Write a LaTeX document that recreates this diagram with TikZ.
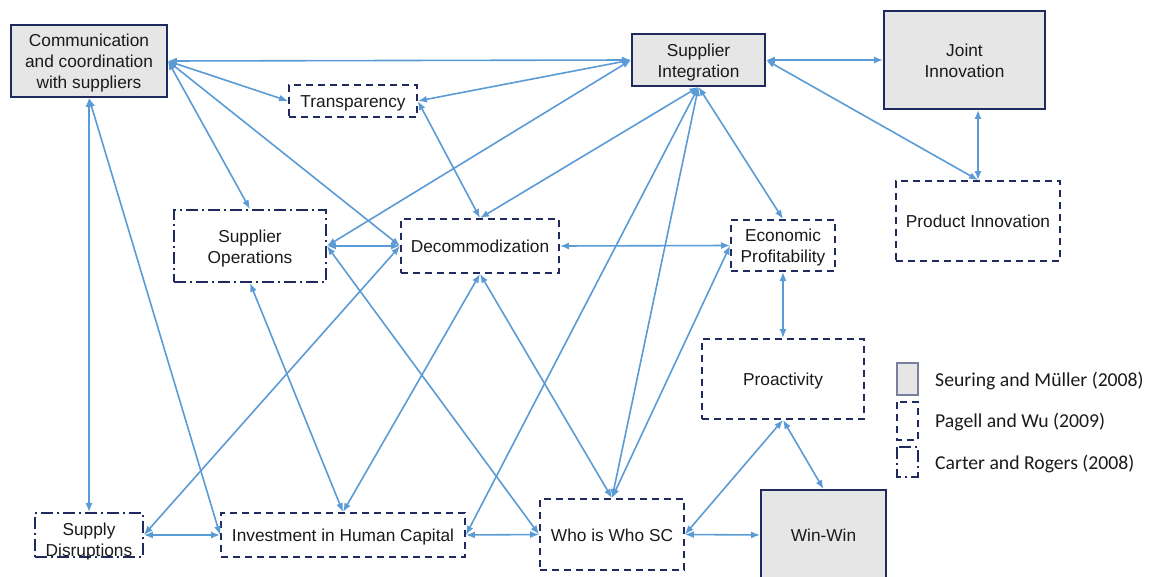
\documentclass[tikz,border=0pt]{standalone}
\usepackage{fontspec}
\setmainfont{Liberation Sans}
\newfontfamily\legendfont{Carlito}
\usetikzlibrary{arrows.meta}

\definecolor{navy}{HTML}{1F2B5E}
\definecolor{boxfill}{HTML}{E6E6E6}
\definecolor{link}{HTML}{5B9BD5}
\definecolor{ink}{HTML}{1A1A1A}

\tikzset{
  box/.style={draw=navy, line width=1.8pt, inner sep=0pt, align=center,
    text=ink, text height=13.5pt, text depth=0pt,
    font=\fontsize{17.3}{21}\selectfont},
  twolines/.style={text height=34.5pt},
  threelines/.style={text height=55.5pt},
  solidbox/.style={box, fill=boxfill},
  dashbox/.style={box, dash pattern=on 7pt off 5pt},
  dotbox/.style={box, dash pattern=on 12pt off 4pt on 2pt off 4pt},
  link/.style={draw=link, line width=1.6pt,
    {Latex[length=9pt,width=7pt]}-{Latex[length=9pt,width=7pt]}},
  legendtext/.style={anchor=west, inner sep=0pt, text=ink,
    font=\legendfont\fontsize{19.7}{23}\selectfont}
}

\begin{document}
\begin{tikzpicture}[x=1pt, y=-1pt]
\useasboundingbox (0,0) rectangle (1150,577);

% concepts
\node[solidbox, threelines, minimum width=156pt, minimum height=72pt] (comm) at (89,61)
  {Communication\\and coordination\\with suppliers};
\node[solidbox, twolines, minimum width=133pt, minimum height=52pt] (si) at (698.5,60)
  {Supplier\\Integration};
\node[solidbox, twolines, minimum width=161pt, minimum height=98pt] (ji) at (964.5,60)
  {Joint\\Innovation};
\node[dashbox, minimum width=128pt, minimum height=32pt] (tr) at (353,101)
  {Transparency};
\node[dashbox, minimum width=164pt, minimum height=80pt] (pi) at (978,221)
  {Product Innovation};
\node[dotbox, twolines, minimum width=152pt, minimum height=72pt] (so) at (250,246)
  {Supplier\\Operations};
\node[dashbox, minimum width=158pt, minimum height=54pt] (de) at (480,246)
  {Decommodization};
\node[dashbox, twolines, minimum width=104pt, minimum height=51pt] (ep) at (783,245.5)
  {Economic\\Profitability};
\node[dashbox, minimum width=162pt, minimum height=80pt] (pr) at (783,379)
  {Proactivity};
\node[dotbox, text height=42pt, minimum width=108pt, minimum height=44pt] (sd) at (89,535)
  {Supply\\Disruptions};
\node[dashbox, minimum width=244pt, minimum height=44pt] (ih) at (343,535)
  {Investment in Human Capital};
\node[dashbox, minimum width=144pt, minimum height=71pt] (ww) at (612,534.5)
  {Who is Who SC};
\node[solidbox, minimum width=125pt, minimum height=90pt] (win) at (823.5,535)
  {Win-Win};

% links between concepts
\draw[link] (comm.east) -- (si.west);
\draw[link] (comm.east) -- (tr.west);
\draw[link] (comm.east) -- (so.north);
\draw[link] (comm.east) -- (de.west);
\draw[link] (comm.south) -- (sd.north);
\draw[link] (comm.south) -- (ih.west);
\draw[link] (tr.east) -- (si.west);
\draw[link] (tr.east) -- (de.north);
\draw[link] (si.west) -- (so.east);
\draw[link] (si.south) -- (de.north);
\draw[link] (si.south) -- (ep.north);
\draw[link] (si.south) -- (ih.east);
\draw[link] (si.south) -- (ww.north);
\draw[link] (si.east) -- (ji.west);
\draw[link] (si.east) -- (pi.north);
\draw[link] (pi.north |- ji.south) -- (pi.north);
\draw[link] (so.east) -- (de.west);
\draw[link] (so.south) -- (ih.north);
\draw[link] (so.east) -- (ww.west);
\draw[link] (de.east) -- (ep.west);
\draw[link] (de.south) -- (ih.north);
\draw[link] (de.south) -- (ww.north);
\draw[link] (de.west) -- (sd.east);
\draw[link] (ep.south) -- (pr.north);
\draw[link] (ep.west) -- (ww.north);
\draw[link] (pr.south) -- (ww.east);
\draw[link] (pr.south) -- (win.north);
\draw[link] (ww.east) -- (win.west);
\draw[link] (ih.east) -- (ww.west);
\draw[link] (sd.east) -- (ih.west);

% legend
\draw[draw=navy!60, fill=boxfill, line width=1.2pt] (897,363) rectangle (918,395);
\draw[draw=navy, line width=1.8pt, dash pattern=on 7pt off 5pt] (897,402) rectangle (918,440);
\draw[draw=navy, line width=1.8pt, dash pattern=on 12pt off 4pt on 2pt off 4pt] (897,447) rectangle (918,477);
\node[legendtext] (l1) at (935,381) {Seuring and Müller (2008)};
\node[legendtext] (l2) at (935,422) {Pagell and Wu (2009)};
\node[legendtext] (l3) at (935,464) {Carter and Rogers (2008)};
\end{tikzpicture}
\end{document}
